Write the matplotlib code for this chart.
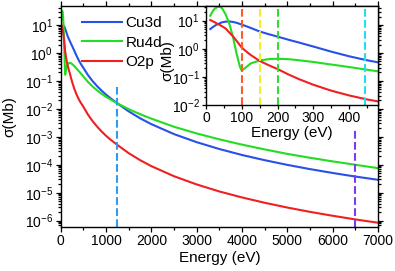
import matplotlib
matplotlib.use("Agg")
import matplotlib.pyplot as plt
from matplotlib.ticker import LogLocator, MultipleLocator, NullFormatter

plt.rcParams['font.family'] = ['Liberation Sans', 'DejaVu Sans']
plt.rcParams['mathtext.fontset'] = 'custom'
plt.rcParams['mathtext.rm'] = 'Liberation Sans'
plt.rcParams['mathtext.it'] = 'Liberation Sans'
plt.rcParams['mathtext.default'] = 'regular'
plt.rcParams['axes.unicode_minus'] = False

# ---- data (photon energy in eV, cross-section in Mb) ----
energy = [12, 20, 25, 30, 37, 45, 55, 65, 75, 85, 95, 100, 110, 125, 150, 175,
          200, 230, 260, 300, 350, 400, 450, 480, 600, 700, 800, 900, 1000,
          1100, 1250, 1500, 1750, 2000, 2500, 3000, 3500, 4000, 4500, 5000,
          5500, 6000, 6500, 7000]

cu3d = [5.0, 6.0, 6.6, 7.2, 7.9, 8.7, 9.2, 9.3, 9.0, 8.4, 7.6, 7.2, 6.5, 5.5,
        4.1, 3.3, 2.7, 2.1, 1.66, 1.2, 0.79, 0.54, 0.39, 0.33, 0.163, 0.100,
        0.0656, 0.0452, 0.0323, 0.0239, 0.0158, 8.13e-3, 4.62e-3, 2.84e-3,
        1.25e-3, 6.43e-4, 3.66e-4, 2.24e-4, 1.46e-4, 9.91e-5, 7.0e-5,
        5.09e-5, 3.79e-5, 2.90e-5]

ru4d = [15, 23, 27, 29.5, 31.6, 27.5, 16.6, 7.9, 2.8, 0.71, 0.224, 0.166,
        0.209, 0.302, 0.38, 0.427, 0.44, 0.427, 0.39, 0.339, 0.275, 0.224,
        0.180, 0.158, 0.0925, 0.0638, 0.0463, 0.0348, 0.0270, 0.0215, 0.0158,
        9.77e-3, 6.46e-3, 4.47e-3, 2.29e-3, 1.32e-3, 8.13e-4, 5.25e-4,
        3.55e-4, 2.45e-4, 1.78e-4, 1.32e-4, 1.00e-4, 7.59e-5]

o2p = [10.5, 9.3, 8.7, 7.9, 7.2, 6.3, 5.2, 3.8, 2.8, 1.95, 1.32, 1.1, 0.85,
       0.60, 0.37, 0.26, 0.19, 0.123, 0.083, 0.0525, 0.0324, 0.0219, 0.0158,
       0.0135, 6.3e-3, 3.7e-3, 2.35e-3, 1.57e-3, 1.09e-3, 7.9e-4, 5.13e-4,
       2.60e-4, 1.47e-4, 8.93e-5, 3.89e-5, 1.98e-5, 1.11e-5, 6.78e-6,
       4.38e-6, 2.95e-6, 2.07e-6, 1.50e-6, 1.11e-6, 8.45e-7]

labels = ['Cu3d', 'Ru4d', 'O2p']
colors = ['#2850E8', '#22DD22', '#EE2020']

main_vlines = [1250, 6500]
main_vline_tops = [0.06, 1.8e-3]
main_vline_colors = ['#2E9BF5', '#7B3BF0']

inset_vlines = [100, 150, 200, 445]
inset_vline_colors = ['#FF5A28', '#F0EE30', '#30DD30', '#20DDF0']

# ---- figure ----
W, H = 395, 271
fig = plt.figure(figsize=(W / 100, H / 100), dpi=100)

L, R, T, B = 60.7, 378.0, 5.7, 226.7
ax = fig.add_axes([L / W, 1 - B / H, (R - L) / W, (B - T) / H])

for y, lab, c in zip([cu3d, ru4d, o2p], labels, colors):
    ax.plot(energy, y, color=c, lw=1.5, label=lab)

ax.set_yscale('log')
ax.set_xlim(0, 7000)
ylo = 10 ** -6.215
ax.set_ylim(ylo, 10 ** 1.69)
for xv, top, c in zip(main_vlines, main_vline_tops, main_vline_colors):
    ax.plot([xv, xv], [ylo, top], color=c, lw=1.5, ls='--')

ax.xaxis.set_major_locator(MultipleLocator(1000))
ax.xaxis.set_minor_locator(MultipleLocator(500))
ax.yaxis.set_major_locator(LogLocator(base=10, numticks=20))
ax.yaxis.set_minor_locator(LogLocator(base=10, subs=range(2, 10), numticks=20))
ax.yaxis.set_minor_formatter(NullFormatter())
ax.tick_params(which='both', direction='out', top=True, right=True,
               labelsize=10, width=0.9, pad=2)
ax.tick_params(which='major', length=3.5)
ax.tick_params(which='minor', length=2)
ax.set_xlabel('Energy (eV)', fontsize=11)
ax.set_ylabel('σ(Mb)', fontsize=11)
ax.xaxis.set_label_coords(0.5, (B - 251) / (B - T))
ax.yaxis.set_label_coords((16 - L) / (R - L), 0.5)
for s in ax.spines.values():
    s.set_linewidth(1.0)

ax.legend(loc='upper left', bbox_to_anchor=(0.035, 1.0), frameon=False,
          fontsize=11, handlelength=2.6, handletextpad=0.2,
          labelspacing=0.35, borderaxespad=0.3)

# ---- inset ----
iL, iR, iT, iB = 206.0, 378.0, 5.7, 105.0
axi = fig.add_axes([iL / W, 1 - iB / H, (iR - iL) / W, (iB - iT) / H])
for y, c in zip([cu3d, ru4d, o2p], colors):
    axi.plot(energy, y, color=c, lw=1.5)
axi.set_yscale('log')
axi.set_xlim(0, 481)
axi.set_ylim(1e-2, 10 ** 1.53)
for xv, c in zip(inset_vlines, inset_vline_colors):
    axi.axvline(xv, color=c, lw=1.5, ls='--')
axi.xaxis.set_major_locator(MultipleLocator(100))
axi.xaxis.set_minor_locator(MultipleLocator(50))
axi.yaxis.set_major_locator(LogLocator(base=10, numticks=10))
axi.yaxis.set_minor_locator(LogLocator(base=10, subs=range(2, 10), numticks=10))
axi.yaxis.set_minor_formatter(NullFormatter())
axi.tick_params(which='both', direction='out', labelsize=10, width=0.9, pad=1.5)
axi.tick_params(which='major', length=3)
axi.tick_params(which='minor', length=1.8)
axi.set_xlabel('Energy (eV)', fontsize=11)
axi.set_ylabel('σ(Mb)', fontsize=11)
axi.xaxis.set_label_coords(0.5, (iB - 126) / (iB - iT))
axi.yaxis.set_label_coords((174 - iL) / (iR - iL), 0.45)
for s in axi.spines.values():
    s.set_linewidth(1.0)

fig.savefig('out.png', dpi=100)
